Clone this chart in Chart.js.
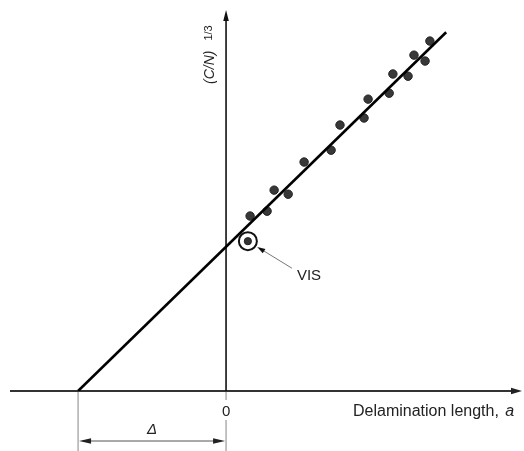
<!DOCTYPE html>
<html><head><meta charset="utf-8">
<script src="https://cdn.jsdelivr.net/npm/chart.js@4/dist/chart.umd.min.js"></script>
<style>html,body{margin:0;padding:0;background:#fff}#wrap{width:524px;height:451px;position:relative}</style>
</head><body><div id="wrap"><canvas id="c" width="524" height="451"></canvas></div>
<script>
// ---- data (arbitrary units; a = delamination length, y = (C/N)^1/3) ----
const delaminationLength = [0.65, 1.11, 1.30, 1.68, 2.11, 2.84, 3.08, 3.73, 3.84, 4.41, 4.51, 4.92, 5.08, 5.38, 5.51];
const complianceCubeRoot = [4.73, 4.86, 5.43, 5.32, 6.19, 6.51, 7.19, 7.38, 7.89, 8.05, 8.57, 8.51, 9.08, 8.92, 9.46];
const visLength = [0.59];
const visCompliance = [4.05];
const fitLength = [-4, 5.95];
const fitCompliance = [0, 9.70];
const delta = 4;
const xTickLabels = ['0'];
const xTickValues = [0];
const xRange = [-5.84, 8];
const yRange = [0, 10.3];
const visLabelA = 1.78, visLabelC = 3.32;

const pts = (xs, ys) => xs.map((x, i) => ({x: x, y: ys[i]}));

function arrowHead(ctx, tx, ty, dx, dy, len, half) {
  const L = Math.hypot(dx, dy); const ux = dx / L, uy = dy / L;
  ctx.beginPath();
  ctx.moveTo(tx, ty);
  ctx.lineTo(tx - ux * len - uy * half, ty - uy * len + ux * half);
  ctx.lineTo(tx - ux * len + uy * half, ty - uy * len - ux * half);
  ctx.closePath(); ctx.fill();
}

const decor = {
  id: 'decor',
  beforeDatasetsDraw(chart) {
    const ctx = chart.ctx, xs = chart.scales.x, ys = chart.scales.y, ca = chart.chartArea;
    const x0 = xs.getPixelForValue(0), y0 = ys.getPixelForValue(0);
    ctx.save();
    // horizontal axis
    ctx.strokeStyle = '#333'; ctx.fillStyle = '#222'; ctx.lineWidth = 2;
    ctx.beginPath(); ctx.moveTo(ca.left, y0); ctx.lineTo(ca.right - 6, y0); ctx.stroke();
    arrowHead(ctx, ca.right, y0, 1, 0, 11, 3.2);
    // vertical axis
    ctx.strokeStyle = '#111'; ctx.fillStyle = '#111'; ctx.lineWidth = 1.6;
    ctx.beginPath(); ctx.moveTo(x0, y0); ctx.lineTo(x0, ca.top + 6); ctx.stroke();
    arrowHead(ctx, x0, ca.top, 0, -1, 11, 2.8);
    // extension lines
    const xd = xs.getPixelForValue(-delta);
    ctx.strokeStyle = '#9a9a9a'; ctx.lineWidth = 1.2;
    ctx.beginPath();
    ctx.moveTo(xd, y0 + 1); ctx.lineTo(xd, chart.height);
    ctx.moveTo(x0, y0 + 1); ctx.lineTo(x0, y0 + 9);
    ctx.moveTo(x0, y0 + 29); ctx.lineTo(x0, chart.height);
    ctx.stroke();
    // dimension line
    const yd = y0 + 50;
    ctx.strokeStyle = '#555'; ctx.fillStyle = '#222'; ctx.lineWidth = 1;
    ctx.beginPath(); ctx.moveTo(xd + 6, yd); ctx.lineTo(x0 - 6, yd); ctx.stroke();
    arrowHead(ctx, xd + 1, yd, -1, 0, 12, 2.8);
    arrowHead(ctx, x0 - 1, yd, 1, 0, 12, 2.8);
    // texts
    ctx.fillStyle = '#222'; ctx.textBaseline = 'alphabetic';
    ctx.font = '15px "Liberation Sans", Arial, sans-serif'; ctx.textAlign = 'center';
    xTickValues.forEach((v, i) => ctx.fillText(xTickLabels[i], xs.getPixelForValue(v), y0 + 25));
    ctx.font = 'italic 15px "Liberation Sans", Arial, sans-serif';
    ctx.fillText('\u0394', (xd + x0) / 2, y0 + 43);
    ctx.textAlign = 'left';
    ctx.font = '16px "Liberation Sans", Arial, sans-serif';
    const t1 = 'Delamination length, ';
    ctx.fillText(t1, 353, y0 + 25);
    const w1 = ctx.measureText(t1).width;
    ctx.font = 'italic 16px "Liberation Sans", Arial, sans-serif';
    ctx.fillText('a', 353 + w1 + 2, y0 + 25);
    // y axis title
    ctx.save();
    ctx.translate(x0 - 12, 84); ctx.rotate(-Math.PI / 2);
    ctx.font = 'italic 14px "Liberation Sans", Arial, sans-serif';
    ctx.fillText('(C/N)', 0, 0);
    const w2 = ctx.measureText('(C/N)').width;
    ctx.font = '11px "Liberation Sans", Arial, sans-serif';
    ctx.fillText('1/3', w2 + 10, -2);
    ctx.restore();
    ctx.restore();
  },
  afterDatasetsDraw(chart) {
    const ctx = chart.ctx, xs = chart.scales.x, ys = chart.scales.y;
    const cx = xs.getPixelForValue(visLength[0]), cy = ys.getPixelForValue(visCompliance[0]);
    const tx = xs.getPixelForValue(visLabelA), ty = ys.getPixelForValue(visLabelC);
    const dx = cx - tx, dy = cy - ty, L = Math.hypot(dx, dy);
    const hx = cx - dx / L * 11, hy = cy - dy / L * 11;
    ctx.save();
    ctx.strokeStyle = '#777'; ctx.lineWidth = 1;
    ctx.beginPath(); ctx.moveTo(tx, ty); ctx.lineTo(hx - dx / L * 6, hy - dy / L * 6); ctx.stroke();
    ctx.fillStyle = '#111';
    arrowHead(ctx, hx, hy, dx, dy, 8, 2.6);
    ctx.fillStyle = '#222';
    ctx.font = '15px "Liberation Sans", Arial, sans-serif';
    ctx.textAlign = 'left'; ctx.textBaseline = 'middle';
    ctx.fillText('VIS', tx + 5, ty + 8);
    ctx.restore();
  }
};

new Chart(document.getElementById('c'), {
  type: 'scatter',
  data: {
    datasets: [
      { label: 'fit', data: pts(fitLength, fitCompliance), showLine: true, borderColor: '#000', borderWidth: 2.6, pointRadius: 0, fill: false },
      { label: 'data', data: pts(delaminationLength, complianceCubeRoot), pointRadius: 4.2, backgroundColor: '#383838', borderColor: '#222', borderWidth: 1 },
      { label: 'VIS ring', data: pts(visLength, visCompliance), pointRadius: 9, backgroundColor: 'rgba(255,255,255,0)', borderColor: '#111', borderWidth: 2 },
      { label: 'VIS', data: pts(visLength, visCompliance), pointRadius: 3.6, backgroundColor: '#333', borderColor: '#222', borderWidth: 1 }
    ]
  },
  options: {
    responsive: false, animation: false, devicePixelRatio: 1,
    layout: { autoPadding: false, padding: { left: 10, right: 2, top: 10, bottom: 60 } },
    scales: {
      x: { type: 'linear', min: xRange[0], max: xRange[1], display: false },
      y: { type: 'linear', min: yRange[0], max: yRange[1], display: false }
    },
    plugins: { legend: { display: false }, tooltip: { enabled: false } },
    elements: { point: { hoverRadius: 4 } }
  },
  plugins: [decor]
});
</script>
</body></html>
